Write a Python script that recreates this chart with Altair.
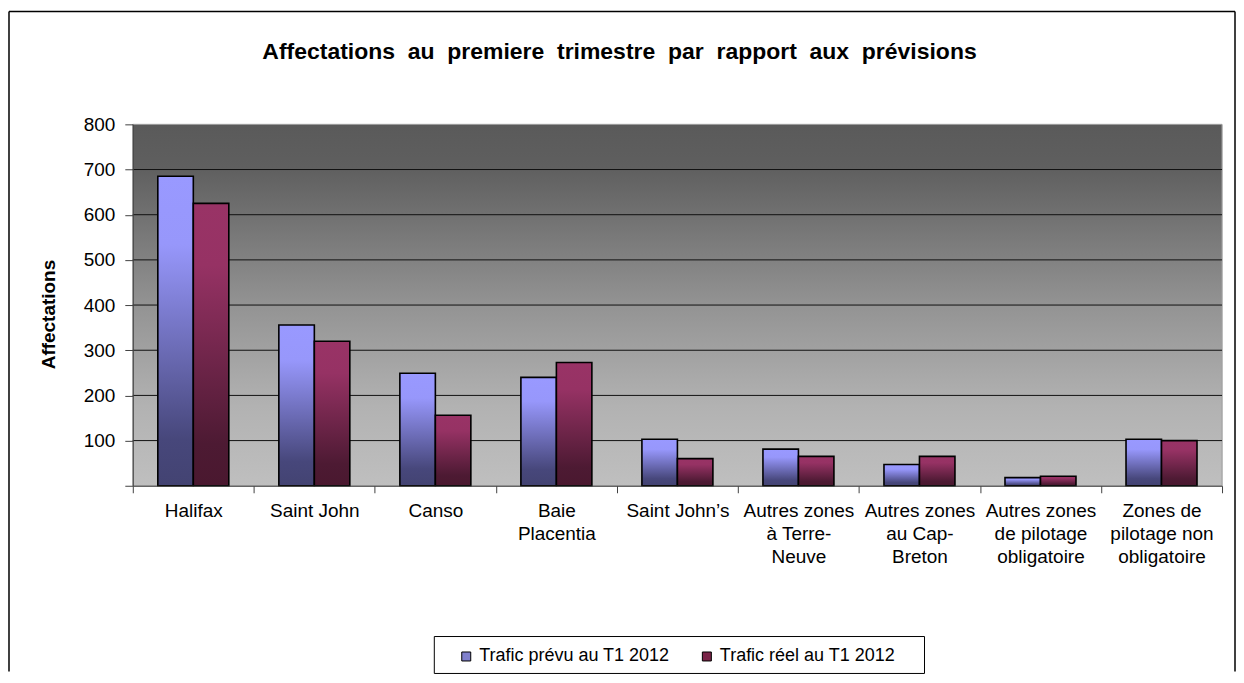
import altair as alt
import pandas as pd

CATEGORIES = ["Halifax", "Saint John", "Canso", "Baie|Placentia", "Saint John’s",
              "Autres zones|à Terre-|Neuve", "Autres zones|au Cap-|Breton",
              "Autres zones|de pilotage|obligatoire", "Zones de|pilotage non|obligatoire"]
SERIES = ["Trafic prévu au T1 2012", "Trafic réel au T1 2012"]
PREVU = [685, 356, 249, 240, 103, 81, 47, 18, 103]
REEL = [625, 320, 156, 273, 60, 65, 65, 21, 100]
Y_TICKS = [0, 100, 200, 300, 400, 500, 600, 700, 800]
GRID = [100, 200, 300, 400, 500, 600, 700]
TITLE = "Affectations\u00a0 au\u00a0 premiere\u00a0 trimestre\u00a0 par\u00a0 rapport\u00a0 aux\u00a0 prévisions"
Y_TITLE = "Affectations"

rows = []
for c, a, b in zip(CATEGORIES, PREVU, REEL):
    rows.append({"cat": c, "series": SERIES[0], "value": a})
    rows.append({"cat": c, "series": SERIES[1], "value": b})
df = pd.DataFrame(rows)
grid_df = pd.DataFrame({"value": GRID})
one = pd.DataFrame({"k": [0]})

W, H = 1091, 362
FONT = "Liberation Sans"

blue = {"gradient": "linear", "x1": 0, "y1": 0, "x2": 0, "y2": 1,
        "stops": [{"offset": 0, "color": "#9999ff"}, {"offset": 0.22, "color": "#9797fb"},
                  {"offset": 0.85, "color": "#47477b"}, {"offset": 1, "color": "#434372"}]}
red = {"gradient": "linear", "x1": 0, "y1": 0, "x2": 0, "y2": 1,
       "stops": [{"offset": 0, "color": "#993366"}, {"offset": 0.22, "color": "#963264"},
                 {"offset": 0.85, "color": "#4d1a33"}, {"offset": 1, "color": "#4a182f"}]}
bg = {"gradient": "linear", "x1": 0, "y1": 0, "x2": 0, "y2": 1,
      "stops": [{"offset": 0, "color": "#5a5a5a"}, {"offset": 0.12, "color": "#5f5f5f"},
                {"offset": 0.5, "color": "#939393"}, {"offset": 0.78, "color": "#b2b2b2"},
                {"offset": 1, "color": "#bfbfbf"}]}

x_enc = alt.X("cat:N", sort=CATEGORIES,
              scale=alt.Scale(paddingInner=0, paddingOuter=0),
              axis=alt.Axis(title=None, labelAngle=0, labelExpr="split(datum.label, '|')",
                            tickBand="extent", labelFont=FONT, labelFontSize=19,
                            labelColor="#000000", labelLineHeight=23, labelBaseline="top",
                            labelPadding=9, tickSize=7, tickColor="#404040",
                            domainColor="#404040", grid=False, zindex=1))
xo_enc = alt.XOffset("series:N", sort=SERIES,
                     scale=alt.Scale(paddingOuter=0.705, paddingInner=0))
y_enc = alt.Y("value:Q", scale=alt.Scale(domain=[0, 800], nice=False),
              axis=alt.Axis(title=Y_TITLE, values=Y_TICKS, grid=False,
                            labelExpr="datum.value == 0 ? '' : datum.label",
                            labelFont=FONT, labelFontSize=19, labelColor="#000000",
                            labelPadding=10, tickSize=8, tickColor="#404040",
                            domainColor="#404040", titleFont=FONT, titleFontSize=19,
                            titleFontWeight="bold", titleColor="#000000",
                            titleX=-84, titleY=190, titleAngle=270, titleAlign="center",
                            titleBaseline="middle", zindex=1))

background = alt.Chart(one).mark_rect(color=bg, stroke="#a0a0a0", strokeWidth=1).encode(
    x=alt.value(0), x2=alt.value(W), y=alt.value(0), y2=alt.value(H))

gridlines = alt.Chart(grid_df).mark_rule(color="#111111", strokeWidth=1).encode(y=y_enc)

legend_bars = alt.Chart(df).mark_bar().encode(
    x=x_enc, xOffset=xo_enc, y=y_enc,
    color=alt.Color("series:N", sort=SERIES,
                    scale=alt.Scale(domain=SERIES, range=["#8080cc", "#7a2448"]),
                    legend=alt.Legend(title=None, orient="none", legendX=325, legendY=524,
                                      direction="horizontal", labelFont=FONT,
                                      labelFontSize=18, labelColor="#000000",
                                      labelLimit=400,
                                      symbolType="square", symbolSize=81,
                                      symbolStrokeColor="#000000", symbolStrokeWidth=1,
                                      labelOffset=4, columnPadding=28, padding=0)))

bars = alt.Chart(df).mark_bar(stroke="#000000", strokeWidth=1.6).encode(
    x=x_enc, xOffset=xo_enc, y=y_enc,
    color=alt.condition(alt.datum.series == SERIES[0], alt.value(blue), alt.value(red)))

frame_top = alt.Chart(one).mark_rule(color="#000000", strokeWidth=1.5).encode(
    x=alt.value(-124), x2=alt.value(1104), y=alt.value(-113))
frame_left = alt.Chart(one).mark_rule(color="#000000", strokeWidth=1.5).encode(
    x=alt.value(-124), y=alt.value(-113), y2=alt.value(548))
frame_right = alt.Chart(one).mark_rule(color="#000000", strokeWidth=1.5).encode(
    x=alt.value(1104), y=alt.value(-113), y2=alt.value(548))

legend_box = alt.Chart(one).mark_rect(fill="#ffffff", stroke="#000000", strokeWidth=1).encode(
    x=alt.value(302), x2=alt.value(793), y=alt.value(513), y2=alt.value(550))

title = alt.Chart(one).mark_text(font=FONT, fontSize=23, fontWeight="bold", color="#000000",
                                 align="center", baseline="alphabetic").encode(
    x=alt.value(487.5), y=alt.value(-65), text=alt.value(TITLE))

chart = alt.layer(background, gridlines, legend_bars, bars, frame_top, frame_left,
                  frame_right, legend_box, title).properties(
    width=W, height=H,
    padding={"left": 0, "top": 2, "right": 0, "bottom": 0},
).configure_view(stroke=None).configure(background="#ffffff")

chart.save("out.html", embed_options={"renderer": "svg", "actions": False})
